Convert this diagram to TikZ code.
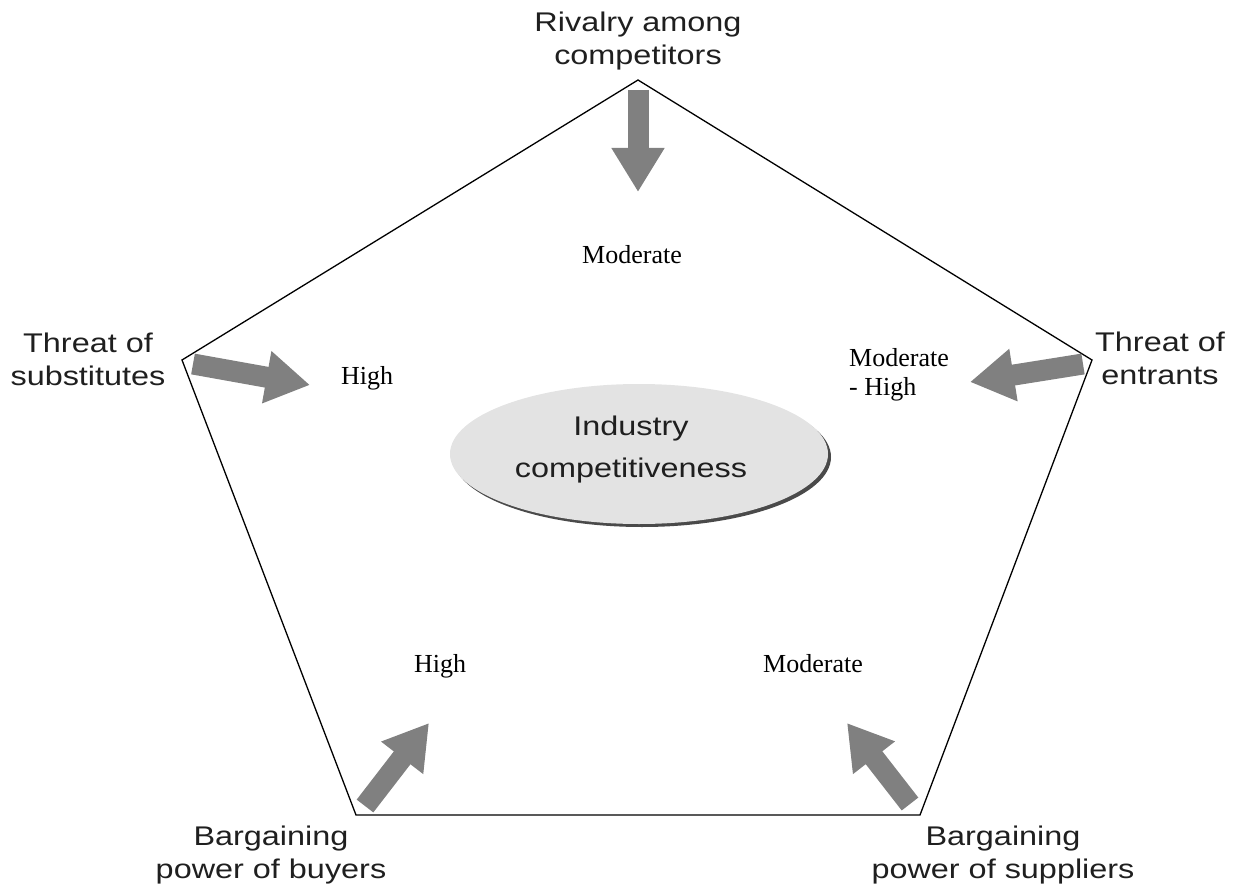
\documentclass[tikz,border=0pt]{standalone}
\usepackage{fontspec}
\setmainfont{Liberation Serif}
\newfontfamily\forcefont[FakeStretch=1.2]{Liberation Sans}
\usetikzlibrary{arrows.meta,shapes.geometric}
\definecolor{arrowgray}{HTML}{808080}
\definecolor{corefill}{HTML}{E3E3E3}
\definecolor{coreshadow}{HTML}{4A4A4A}
\begin{document}
\begin{tikzpicture}[x=1pt,y=-1pt,
  force/.style={font=\forcefont\fontsize{27}{33}\selectfont, align=center, text=black!88, inner sep=0pt, anchor=base},
  rating/.style={font=\fontsize{26}{29}\selectfont, inner sep=0pt, anchor=base},
  push/.style={draw=arrowgray, line width=21pt, -{Triangle[width=50pt,length=44pt]}},
  rim/.style={draw=black, line width=1.3pt, line join=miter}]
\useasboundingbox (0,0) rectangle (1246,890);

% corners of the pentagon
\coordinate (T)  at (638,80);
\coordinate (L)  at (182,360);
\coordinate (R)  at (1092,360);
\coordinate (BL) at (356,815);
\coordinate (BR) at (920,815);
\draw[rim] (T) -- (R) -- (BR) -- (BL) -- (L) -- cycle;

% central ellipse with its dark rim shadow
\fill[coreshadow] (642,457) ellipse [x radius=189, y radius=70];
\node (core) [ellipse, fill=corefill, minimum width=378pt, minimum height=140pt, inner sep=0pt] at (639,454) {};
\node (coretext) [force, font=\forcefont\fontsize{27}{42}\selectfont] at (631,477) {Industry\\competitiveness};

% the five forces (base anchor sits on the last line)
\node (rival) [force] at (638,65) {Rivalry among\\competitors};
\node (subst) [force] at (88,385) {Threat of\\substitutes};
\node (entr)  [force] at (1160,384) {Threat of\\entrants};
\node (buy)   [force] at (271,878) {Bargaining\\power of buyers};
\node (supp)  [force] at (1003,878) {Bargaining\\power of suppliers};

% ratings
\node (rRival) [rating] at (632,264) {Moderate};
\node (rSubst) [rating] at (367,384) {High};
\node (rEntr)  [rating, anchor=base west, align=left] at (849,395) {Moderate\\- High};
\node (rBuy)   [rating] at (440,672) {High};
\node (rSupp)  [rating] at (813,672) {Moderate};

% arrow ends
\coordinate (tRival) at (638,90);   \coordinate (hRival) at (638,192);
\coordinate (tSubst) at (193,364);  \coordinate (hSubst) at (310,385);
\coordinate (tEntr)  at (1083,364); \coordinate (hEntr)  at (970,382);
\coordinate (tBuy)   at (365,806);  \coordinate (hBuy)   at (429,723);
\coordinate (tSupp)  at (910,804);  \coordinate (hSupp)  at (847,723);

\draw[push] (tRival) -- (hRival);
\draw[push] (tSubst) -- (hSubst);
\draw[push] (tEntr)  -- (hEntr);
\draw[push] (tBuy)   -- (hBuy);
\draw[push] (tSupp)  -- (hSupp);
\end{tikzpicture}
\end{document}
